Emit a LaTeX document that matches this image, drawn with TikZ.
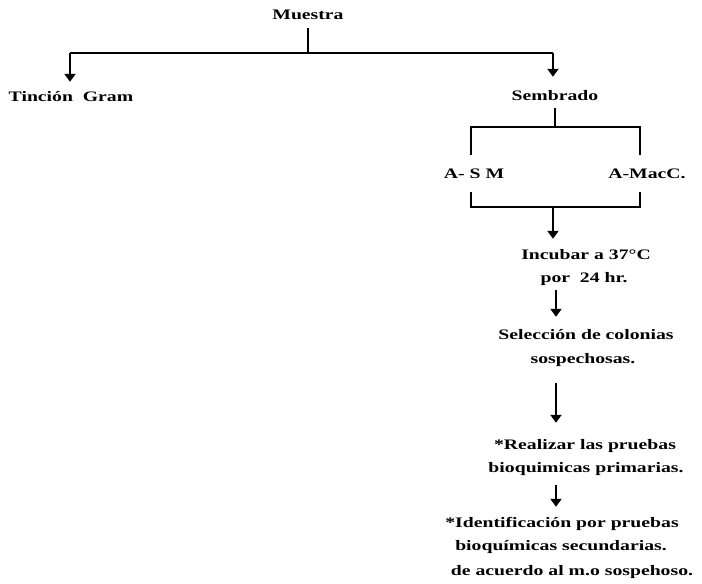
\documentclass[tikz,border=0pt]{standalone}
\usepackage{fontspec}
\setmainfont{Liberation Serif}[FakeStretch=1.36]
\usetikzlibrary{arrows.meta}
\begin{document}
\begin{tikzpicture}[x=1pt,y=-1pt,
  lbl/.style={inner sep=0pt, anchor=base, text height=10pt, text depth=3pt,
              font=\fontsize{14.5}{17}\selectfont\bfseries},
  ln/.style={line width=1.8pt},
  arr/.style={line width=1.9pt, -{Triangle[width=11pt,length=8pt]}}]
\useasboundingbox[fill=white] (0,0) rectangle (702,584);

% labels (placed on their baselines)
\node[lbl] (muestra)  at (308,19)  {Muestra};
\node[lbl] (tincion)  at (71,101)  {Tinción\ \ Gram};
\node[lbl] (sembrado) at (555,100) {Sembrado};
\node[lbl] (asm)      at (474,178) {A- S M};
\node[lbl] (amac)     at (647,178) {A-MacC.};
\node[lbl] (incA)     at (586,259) {Incubar a 37°C};
\node[lbl] (incB)     at (584,282) {por\ \ 24 hr.};
\node[lbl] (selA)     at (586,339) {Selección de colonias};
\node[lbl] (selB)     at (583,363) {sospechosas.};
\node[lbl] (reaA)     at (585,449) {*Realizar las pruebas};
\node[lbl] (reaB)     at (586,472) {bioquimicas primarias.};
\node[lbl] (idA)      at (562,527) {*Identificación por pruebas};
\node[lbl] (idB)      at (561,550) {bioquímicas secundarias.};
\node[lbl] (idC)      at (572,575) {de acuerdo al m.o sospehoso.};

% junction points
\coordinate (top) at (308,53);
\coordinate (tl)  at (70,53);
\coordinate (tr)  at (553,53);
\coordinate (bt)  at (555,127);
\coordinate (btl) at (471,127);
\coordinate (btr) at (640,127);
\coordinate (bbl) at (471,207);
\coordinate (bbr) at (640,207);
\coordinate (bm)  at (553,207);
\coordinate (ax)  at (556,0);

% first split
\draw[ln, shorten <=6pt] (muestra.south) -- (top);
\draw[ln] (tl) -- (tr);
\draw[arr, shorten >=9pt]  (tl) -- (tl |- tincion.north);
\draw[arr, shorten >=13pt] (tr) -- (tr |- sembrado.north);

% plating on the two media
\draw[ln, shorten <=5pt] (sembrado.south) -- (bt);
\draw[ln, shorten <=13pt, shorten >=13pt]
  (btl |- asm.north) -- (btl) -- (btr) -- (btr |- amac.north);
\draw[ln, shorten <=11pt, shorten >=11pt]
  (bbl |- asm.south) -- (bbl) -- (bbr) -- (bbr |- amac.south);

% main sequence
\draw[arr, shorten >=10pt] (bm) -- (bm |- incA.north);
\draw[arr, shorten <=5pt,  shorten >=12pt] (incB.south -| ax) -- (selA.north -| ax);
\draw[arr, shorten <=17pt, shorten >=16pt] (selB.south -| ax) -- (reaA.north -| ax);
\draw[arr, shorten <=10pt, shorten >=10pt] (reaB.south -| ax) -- (idA.north -| ax);
\end{tikzpicture}
\end{document}
